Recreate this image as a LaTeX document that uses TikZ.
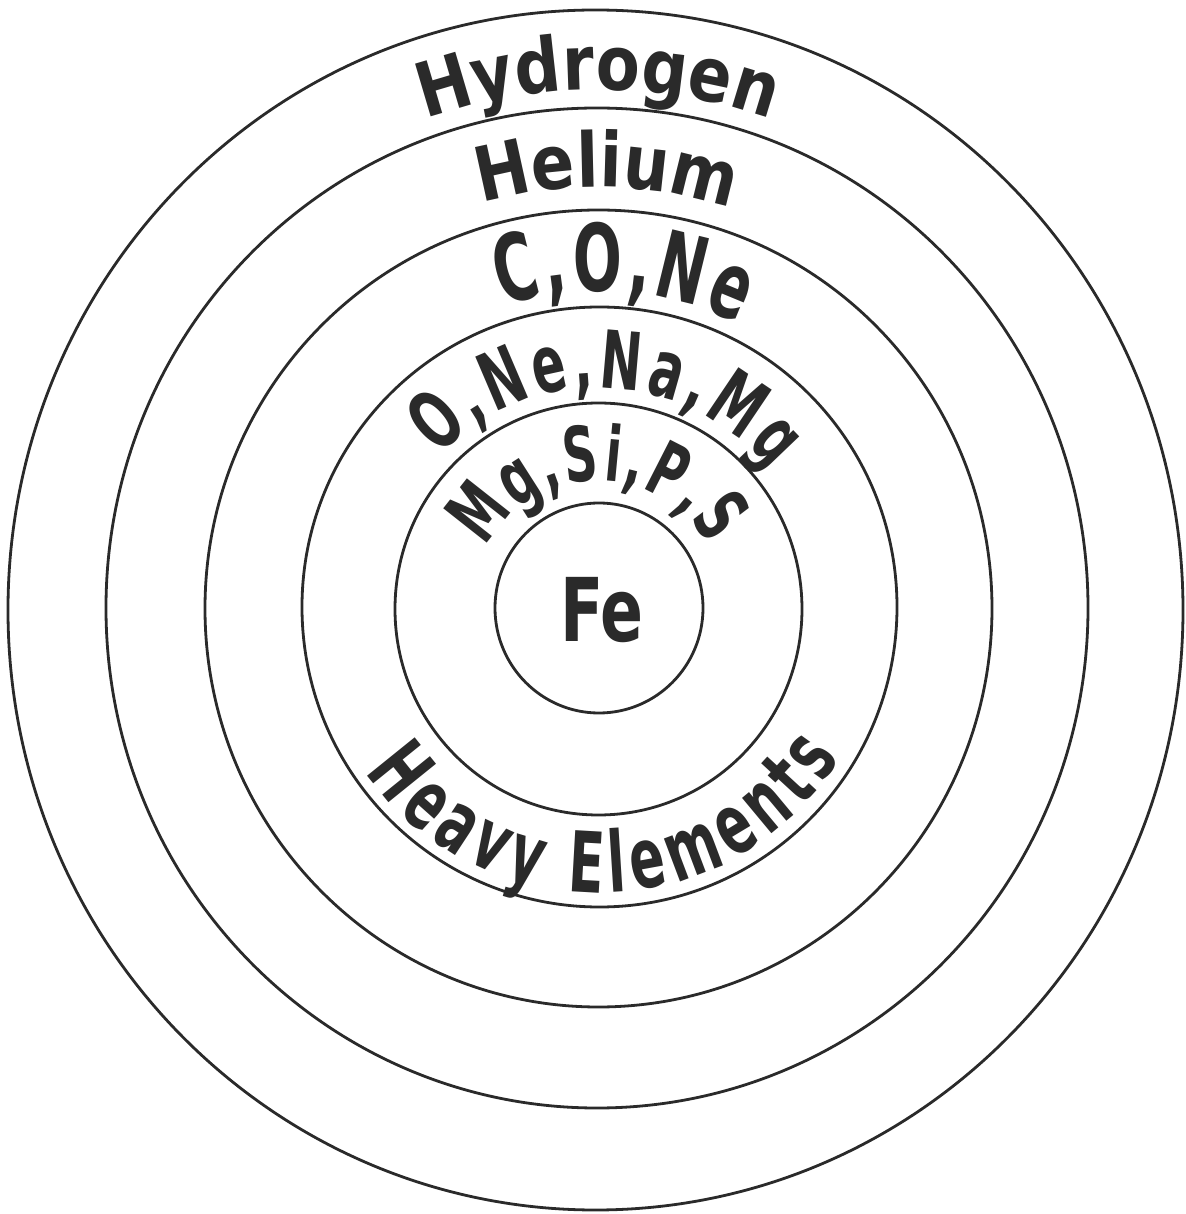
\documentclass[tikz,border=0pt]{standalone}
\usepackage{fontspec}
\usetikzlibrary{decorations.text}
\newfontfamily\lettA[FakeStretch=0.85]{DejaVu Sans}
\newfontfamily\lettB[FakeStretch=0.72]{DejaVu Sans}
\newfontfamily\lettC[FakeStretch=0.62]{DejaVu Sans}
\definecolor{ink}{HTML}{2A2A2A}
\begin{document}
\begin{tikzpicture}[x=0.5pt,y=0.5pt,
  ring/.style={draw=ink, line width=1.4pt},
  lbl/.style={decorate, decoration={text along path, text align=center, text={#1}}}]
\useasboundingbox (-598,-606) rectangle (588,608);
% shells
\draw[ring] (-2.5,-2) ellipse [x radius=587.5, y radius=600];
\draw[ring] (-1,0) ellipse [x radius=491, y radius=500];
\draw[ring] (0.5,-0.5) ellipse [x radius=393.5, y radius=398.5];
\draw[ring] (1.5,1) ellipse [x radius=297.5, y radius=300];
\draw[ring] (0.5,-1) ellipse [x radius=203.5, y radius=206];
\draw[ring] (1,0) ellipse [x radius=104, y radius=105];
% curved labels
\path[lbl={|\color{ink}\lettA\bfseries\fontsize{37.7}{40}\selectfont|Hydrogen}]
  (130:518) arc[start angle=130, end angle=50, radius=518];
\path[lbl={|\color{ink}\lettA\bfseries\fontsize{37.7}{40}\selectfont|Helium}]
  (128.8:421) arc[start angle=128.8, end angle=48.8, radius=421];
\path[lbl={|\color{ink}\lettC\bfseries\fontsize{46.6}{48}\selectfont\kern2pt|C,O,Ne}]
  (136:317) arc[start angle=136, end angle=36, radius=317];
\path[lbl={|\color{ink}\lettC\bfseries\fontsize{40}{42}\selectfont\kern2.3pt|O,Ne,Na,Mg}]
  (163:220) arc[start angle=163, end angle=13, radius=220];
\path[lbl={|\color{ink}\lettC\bfseries\fontsize{38}{40}\selectfont\kern1.2pt|Mg,Si,P,S}]
  (171:127) arc[start angle=171, end angle=11, radius=127];
\path[lbl={|\color{ink}\lettC\bfseries\fontsize{42}{44}\selectfont\kern3.5pt|Heavy Elements}]
  (191:285) arc[start angle=191, end angle=351, radius=285];
\node[text=ink, font=\lettB\bfseries\fontsize{44}{46}\selectfont] (fe) at (4,-2) {Fe};
\end{tikzpicture}
\end{document}
